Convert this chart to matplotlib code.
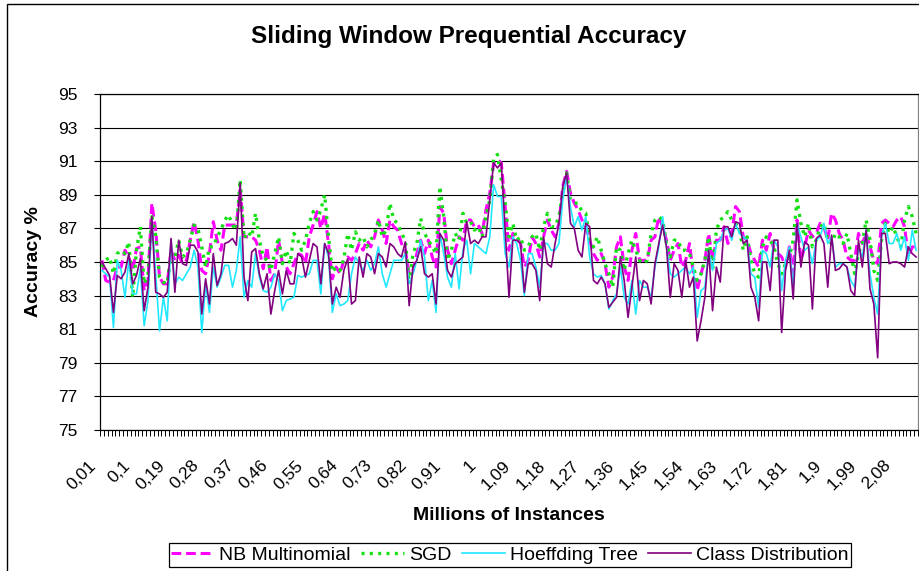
import numpy as np
import matplotlib
matplotlib.use("Agg")
import matplotlib.pyplot as plt
from matplotlib.lines import Line2D
from matplotlib.patches import Rectangle
from matplotlib.transforms import ScaledTranslation

plt.rcParams['font.family'] = ['Liberation Sans', 'DejaVu Sans']
plt.rcParams['lines.scale_dashes'] = False

# Millions of instances: 0,01 ... 2,13 (one category per 10,000 instances)
instances = [round(0.01 * (k + 1), 2) for k in range(213)]

nb_multinomial = [
    85.1, 83.9, 83.8, 83.9, 84.7, 84.7, 85.7, 85.3, 84.5, 85.8,
    85.9, 83.3, 83.9, 88.5, 86.9, 84.1, 83.7, 83.7, 85.7, 85.1,
    85.4, 84.9, 85.1, 86.3, 87.4, 86.3, 84.5, 84.3, 85.5, 87.4,
    86.3, 85.7, 87.2, 87.2, 87.2, 87.2, 89.3, 86.5, 86.5, 86.5,
    86.3, 85.7, 84.6, 85.9, 83.9, 84.3, 86.3, 84.9, 84.7, 84.3,
    84.9, 85.5, 85.4, 84.9, 86.5, 87.2, 88.0, 87.0, 87.9, 86.1,
    84.0, 84.7, 84.3, 85.1, 85.3, 85.1, 85.5, 86.1, 85.7, 86.3,
    85.9, 86.5, 87.5, 86.9, 86.1, 87.5, 87.1, 86.9, 86.1, 85.7,
    84.3, 84.5, 85.5, 86.3, 85.5, 86.3, 85.3, 84.7, 88.3, 87.9,
    85.7, 84.9, 85.7, 86.5, 86.3, 87.5, 87.5, 87.1, 87.2, 86.7,
    88.1, 89.1, 90.9, 91.1, 90.9, 88.3, 85.7, 86.7, 86.5, 86.1,
    84.7, 85.1, 86.5, 86.1, 85.3, 86.5, 87.5, 86.9, 86.5, 87.3,
    89.5, 90.4, 89.1, 88.5, 88.1, 87.5, 87.1, 86.3, 85.5, 85.1,
    85.5, 84.9, 83.5, 84.1, 85.9, 86.5, 84.7, 83.9, 85.7, 86.7,
    85.1, 85.1, 85.1, 86.3, 86.5, 87.7, 87.1, 86.3, 85.1, 85.7,
    86.1, 84.7, 85.1, 86.1, 84.3, 83.3, 84.3, 85.1, 86.7, 85.1,
    86.3, 86.3, 87.1, 86.1, 86.7, 88.3, 88.0, 86.5, 86.3, 85.5,
    85.1, 84.7, 86.3, 85.7, 86.7, 85.7, 85.5, 85.3, 84.7, 85.9,
    84.3, 87.5, 85.1, 85.9, 86.9, 86.5, 86.7, 87.3, 87.1, 86.3,
    87.9, 87.5, 86.7, 86.3, 85.3, 85.1, 85.1, 86.7, 86.1, 86.7,
    85.9, 85.1, 84.9, 87.3, 87.5, 87.3, 87.1, 87.5, 87.7, 87.1,
    85.3, 85.9, 85.9,
]

sgd = [
    84.7, 85.1, 85.3, 84.3, 85.5, 85.7, 85.5, 86.2, 82.9, 85.7,
    87.1, 83.7, 84.3, 87.7, 86.6, 84.1, 83.8, 83.7, 85.5, 85.3,
    86.3, 85.3, 85.5, 86.3, 87.2, 87.0, 85.9, 84.7, 85.9, 85.9,
    86.5, 86.9, 87.5, 87.8, 87.2, 86.9, 89.9, 86.4, 86.8, 86.5,
    87.9, 86.3, 85.3, 85.1, 84.5, 85.5, 86.5, 84.9, 85.7, 84.9,
    86.7, 86.3, 85.7, 86.3, 87.3, 88.0, 87.5, 88.1, 89.0, 86.5,
    84.4, 84.7, 84.5, 85.2, 86.7, 85.7, 86.8, 86.3, 86.5, 85.9,
    86.3, 86.7, 87.5, 86.5, 86.9, 88.5, 87.5, 87.3, 86.7, 86.3,
    83.7, 85.5, 86.1, 87.6, 86.7, 86.3, 85.9, 85.5, 89.5, 87.7,
    85.1, 85.7, 86.7, 86.3, 87.9, 87.3, 87.4, 86.9, 87.1, 86.5,
    87.7, 88.7, 91.2, 91.4, 89.9, 88.5, 86.5, 87.3, 86.3, 86.5,
    85.7, 85.9, 86.5, 86.7, 85.7, 87.1, 87.9, 87.1, 87.1, 87.7,
    89.1, 90.3, 88.7, 88.5, 88.5, 88.0, 87.9, 86.3, 85.9, 86.5,
    85.7, 84.9, 84.3, 83.5, 85.9, 85.7, 84.5, 85.5, 86.3, 85.7,
    85.1, 84.9, 85.1, 86.7, 87.5, 87.7, 87.5, 86.1, 85.3, 86.3,
    86.3, 85.7, 85.7, 85.5, 84.7, 83.9, 84.3, 85.1, 86.5, 84.5,
    86.9, 87.5, 87.7, 88.0, 87.5, 87.3, 86.9, 85.7, 86.5, 85.1,
    84.3, 84.1, 85.9, 86.5, 86.3, 85.9, 84.9, 84.3, 84.9, 85.3,
    86.3, 88.7, 87.3, 86.5, 87.3, 85.9, 86.3, 87.1, 87.3, 86.3,
    86.1, 86.7, 86.5, 86.1, 86.7, 85.5, 84.3, 85.5, 86.1, 87.5,
    86.3, 84.5, 83.9, 86.3, 87.3, 86.7, 87.1, 86.5, 85.9, 87.5,
    88.3, 87.7, 86.7,
]

hoeffding_tree = [
    84.5, 84.3, 84.1, 81.1, 85.1, 84.5, 82.9, 85.1, 83.1, 83.1,
    84.6, 81.2, 82.7, 87.5, 84.3, 80.9, 82.9, 81.5, 86.3, 83.7,
    84.1, 83.9, 84.3, 84.7, 85.7, 84.7, 80.8, 83.7, 82.0, 84.7,
    83.5, 84.1, 84.8, 84.8, 83.5, 84.5, 86.5, 82.9, 83.9, 83.5,
    85.5, 84.1, 83.3, 83.2, 83.5, 84.3, 83.9, 82.1, 82.7, 82.8,
    82.9, 84.2, 84.1, 84.2, 84.3, 85.1, 85.1, 83.1, 86.1, 85.3,
    82.0, 83.1, 82.4, 82.5, 82.7, 84.3, 85.3, 84.9, 84.5, 85.1,
    84.5, 84.9, 85.9, 84.3, 83.5, 84.3, 85.1, 85.1, 85.1, 85.5,
    83.7, 84.3, 85.1, 86.3, 85.3, 82.7, 83.9, 82.0, 86.7, 85.5,
    84.1, 83.5, 85.5, 83.4, 85.7, 86.3, 84.3, 86.1, 85.9, 85.7,
    85.5, 86.5, 89.6, 88.9, 88.9, 85.5, 84.7, 86.5, 86.1, 85.1,
    83.0, 85.5, 85.5, 84.7, 83.5, 86.1, 86.1, 85.7, 85.7, 86.1,
    88.7, 90.1, 88.3, 87.1, 87.7, 86.9, 87.7, 85.3, 84.3, 84.1,
    84.2, 83.7, 82.2, 82.7, 83.1, 84.7, 82.9, 82.5, 83.9, 81.9,
    83.9, 83.5, 83.5, 82.9, 84.7, 85.9, 87.7, 85.9, 84.3, 84.1,
    84.3, 84.5, 84.7, 84.3, 84.7, 81.7, 83.3, 83.5, 85.7, 84.5,
    86.1, 86.3, 86.9, 87.0, 86.3, 87.3, 86.7, 86.5, 86.3, 84.3,
    84.1, 82.3, 85.7, 85.5, 84.7, 86.3, 85.9, 83.3, 85.1, 85.9,
    83.5, 87.3, 86.5, 85.7, 85.9, 84.9, 86.3, 86.5, 87.3, 86.1,
    86.5, 84.7, 84.9, 84.9, 84.7, 83.9, 83.5, 85.9, 85.3, 86.9,
    84.3, 82.9, 81.9, 86.5, 87.3, 86.1, 86.1, 86.7, 85.7, 86.5,
    85.1, 86.9, 85.7,
]

class_distribution = [
    85.0, 84.6, 84.2, 82.0, 84.2, 84.0, 84.4, 85.5, 83.7, 84.2,
    85.2, 82.1, 83.5, 87.7, 83.2, 83.1, 82.9, 83.2, 86.4, 83.2,
    86.3, 84.9, 84.8, 86.0, 86.0, 85.6, 81.9, 84.0, 82.5, 85.5,
    83.6, 84.3, 86.1, 86.2, 86.4, 86.0, 89.7, 84.1, 82.7, 85.6,
    85.8, 84.3, 83.4, 84.3, 81.9, 83.3, 84.5, 83.1, 84.5, 83.7,
    83.7, 85.5, 85.3, 84.1, 85.1, 86.1, 85.9, 83.7, 86.1, 85.5,
    82.5, 83.5, 82.9, 84.5, 85.2, 82.5, 82.7, 85.3, 84.1, 85.5,
    85.3, 84.3, 85.5, 85.3, 84.7, 86.1, 85.9, 85.5, 85.3, 86.2,
    82.4, 84.7, 85.1, 85.9, 84.3, 84.1, 84.3, 82.5, 86.7, 86.3,
    84.5, 84.1, 84.9, 85.1, 85.3, 87.4, 86.1, 86.3, 86.1, 86.5,
    86.5, 88.7, 90.9, 90.6, 90.9, 86.9, 82.9, 86.3, 86.3, 86.1,
    83.2, 84.9, 84.9, 84.5, 82.7, 86.5, 84.9, 84.7, 86.1, 87.3,
    89.5, 90.3, 87.3, 87.0, 85.7, 85.3, 87.3, 87.1, 83.9, 83.7,
    84.1, 83.7, 82.3, 82.6, 82.9, 85.3, 83.9, 81.7, 83.5, 85.3,
    82.7, 83.9, 83.7, 82.5, 84.9, 86.1, 87.2, 85.9, 82.9, 84.9,
    84.5, 82.9, 85.1, 83.5, 84.1, 80.3, 81.5, 82.9, 85.7, 82.1,
    84.7, 83.8, 87.1, 87.1, 86.5, 87.4, 87.3, 86.1, 86.3, 83.5,
    82.9, 81.5, 85.0, 85.0, 83.3, 86.3, 86.3, 80.8, 84.5, 85.7,
    82.8, 87.3, 84.7, 86.2, 86.0, 82.2, 86.4, 86.6, 86.1, 83.5,
    86.6, 84.5, 84.6, 84.9, 84.7, 83.3, 83.0, 86.3, 84.7, 86.9,
    83.4, 82.5, 79.3, 86.7, 86.7, 84.9, 85.0, 85.0, 84.9, 84.7,
    85.9, 85.5, 85.3,
]

series_names = ["NB Multinomial", "SGD", "Hoeffding Tree", "Class Distribution"]
y_ticks = list(range(75, 96, 2))
label_every = 9


def fmt(v):
    s = f"{v:.2f}".rstrip('0').rstrip('.')
    return s.replace('.', ',')


W, H = 919, 571
fig = plt.figure(figsize=(W / 100, H / 100), dpi=100)
fig.patch.set_facecolor('white')

# outer chart border
fig.patches.append(Rectangle((7 / W, -0.2), 1.5, 1 - 4 / H + 0.2, transform=fig.transFigure,
                             fill=False, edgecolor='black', lw=1.0))

left, right, top, bottom = 100, 918, 94, 430
ax = fig.add_axes([left / W, 1 - bottom / H, (right - left) / W, (bottom - top) / H])

n = len(instances)
x = np.arange(n)

styles = [
    dict(color='#FF00FF', lw=2.2, linestyle=(0, (7, 3.5)), solid_capstyle='butt', dash_capstyle='butt'),
    dict(color='#14E014', lw=2.4, linestyle=(0, (2.2, 3.8)), dash_capstyle='butt'),
    dict(color='#22E8FF', lw=1.2, linestyle='-'),
    dict(color='#800080', lw=1.2, linestyle='-'),
]
data = [nb_multinomial, sgd, hoeffding_tree, class_distribution]
for name, vals, st in zip(series_names, data, styles):
    ax.plot(x, vals, label=name, zorder=3, **st)

ax.set_xlim(-0.5, n - 0.5)
ax.set_ylim(75, 95)
ax.set_yticks(y_ticks)
ax.set_yticklabels([str(t) for t in y_ticks], fontsize=12.5)
ax.yaxis.grid(True, color='black', lw=0.8)
ax.set_axisbelow(True)
ax.tick_params(axis='y', length=4, width=0.8, pad=12, color='black')

major_pos = x[::label_every]
ax.set_xticks(major_pos)
ax.set_xticklabels([fmt(instances[i]) for i in major_pos], fontsize=12.5,
                   rotation=45, ha='right', va='top', rotation_mode='anchor')
ax.set_xticks(np.arange(n + 1) - 0.5, minor=True)
ax.tick_params(axis='x', which='major', length=0, pad=20)
ax.tick_params(axis='x', which='minor', length=4, width=0.7, color='black')
offset = ScaledTranslation(-14 / 100, 0, fig.dpi_scale_trans)
for lab in ax.get_xticklabels():
    lab.set_transform(lab.get_transform() + offset)

for side in ['left', 'bottom', 'top']:
    ax.spines[side].set_color('black')
    ax.spines[side].set_linewidth(0.9)
ax.spines['right'].set_color('#808080')
ax.spines['right'].set_linewidth(0.9)

fig.text(469 / W, 1 - 37 / H, "Sliding Window Prequential Accuracy", ha='center', va='center',
         fontsize=17.5, fontweight='bold')
fig.text(509 / W, 1 - 515 / H, "Millions of Instances", ha='center', va='center',
         fontsize=14, fontweight='bold')
fig.text(33 / W, 1 - 262 / H, "Accuracy %", ha='center', va='center', rotation=90,
         fontsize=14, fontweight='bold')

leg_handles = [Line2D([], [], **st) for st in styles]
leg = fig.legend(leg_handles, series_names, loc='center', bbox_to_anchor=(510 / W, 1 - 555 / H),
                 ncol=4, frameon=True, fancybox=False, edgecolor='black', framealpha=1,
                 handlelength=2.2, handletextpad=0.25, columnspacing=0.55, borderpad=0.15,
                 borderaxespad=0, fontsize=14)
leg.get_frame().set_linewidth(0.9)

fig.savefig("out.png", dpi=100)
